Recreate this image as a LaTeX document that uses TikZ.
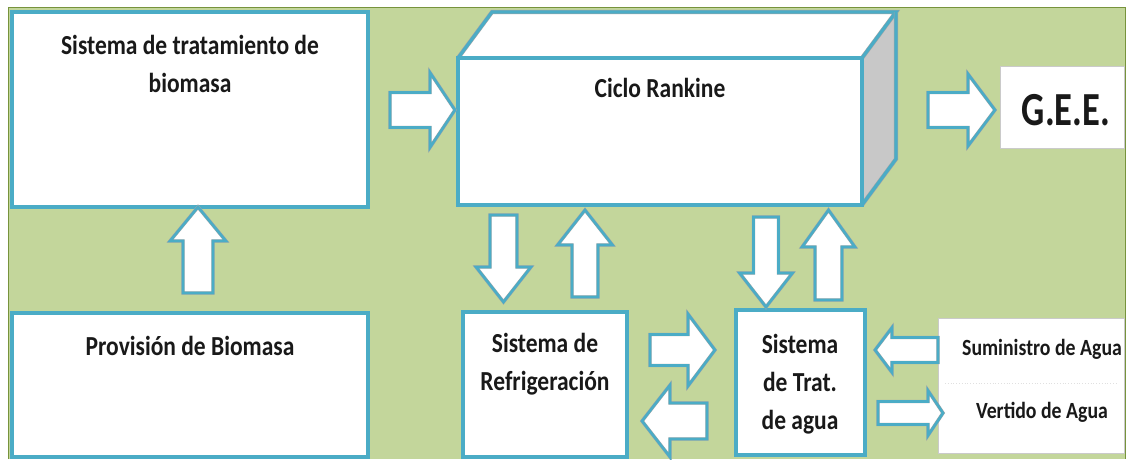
\documentclass[tikz,border=0pt]{standalone}
\usepackage{fontspec}
\setmainfont{Carlito}
\usepackage{graphicx}
\usetikzlibrary{calc}
\definecolor{bgG}{HTML}{C3D69B}
\definecolor{frameG}{HTML}{77933C}
\definecolor{blueC}{HTML}{4BACC6}
\definecolor{edgeG}{HTML}{A6A6A6}
\definecolor{sideG}{HTML}{C8C8C8}
\newcommand{\vs}[2][1.17]{\scalebox{1}[#1]{\begin{tabular}{@{}c@{}}#2\end{tabular}}}
\newcommand{\Harr}[6]{\draw[barrow] (#1,#4-#5) -- (#3,#4-#5) -- (#3,#4-#6) -- (#2,#4) -- (#3,#4+#6) -- (#3,#4+#5) -- (#1,#4+#5) -- cycle;}
\newcommand{\Varr}[6]{\draw[barrow] (#4-#5,#1) -- (#4-#5,#3) -- (#4-#6,#3) -- (#4,#2) -- (#4+#6,#3) -- (#4+#5,#3) -- (#4+#5,#1) -- cycle;}
\tikzset{
  box/.style={draw=edgeG, line width=0.5pt, double=blueC, double distance=3.2pt, fill=white, inner sep=0pt, outer sep=0pt},
  face/.style={draw=edgeG, line width=0.5pt, double=blueC, double distance=3.2pt, line join=miter},
  plainbox/.style={draw=edgeG!60, line width=0.5pt, fill=white, inner sep=0pt, outer sep=0pt},
  barrow/.style={draw=edgeG, line width=0.4pt, double=blueC, double distance=2.6pt, fill=white, line join=miter},
  lbl/.style={font=\bfseries\fontsize{23.5}{32.5}\selectfont, text=black!90, align=center, inner sep=0pt},
  slbl/.style={font=\bfseries\fontsize{19.8}{24}\selectfont, text=black!90, inner sep=0pt},
}
\begin{document}
\begin{tikzpicture}[x=1pt,y=-1pt]
\useasboundingbox (0,0) rectangle (1131,459);
% background panel
\fill[bgG] (8,7) rectangle (1126,459);
% boxes
\node[box, minimum width=356pt, minimum height=195pt] (trat1) at (190,109.5) {};
\node[box, minimum width=356pt, minimum height=144pt] (prov) at (190,385) {};
\node[box, minimum width=164pt, minimum height=145pt] (refr) at (545,384.5) {};
\node[box, minimum width=129pt, minimum height=145pt] (agua) at (800.5,382.5) {};
% Rankine cube
\node[box, minimum width=404pt, minimum height=147pt] (rank) at (660,131.5) {};
\fill[white] (rank.north west) -- ++(34,-46) -- ($(rank.north east)+(34,-46)$) -- (rank.north east) -- cycle;
\fill[sideG] (rank.north east) -- ++(34,-46) -- ++(0,147) -- (rank.south east) -- cycle;
\draw[face] (rank.north west) -- ++(34,-46) -- ($(rank.north east)+(34,-46)$) -- (rank.north east);
\draw[face] ($(rank.north east)+(34,-46)$) -- ++(0,147) -- (rank.south east);
\draw[face] (rank.north west) rectangle (rank.south east);
% right-hand white boxes
\node[plainbox, minimum width=124pt, minimum height=82pt] (gee) at (1062,107) {};
\node[plainbox, minimum width=186pt, minimum height=135pt] (ext) at (1031,385.5) {};
\draw[edgeG!35, dotted, line width=0.8pt] ($(ext.west)+(7,-2.5)$) -- ($(ext.east)+(-8,-2.5)$);
% frame lines
\draw[frameG, line width=1.8pt] (8.5,459) -- (8.5,7.5) -- (1125.5,7.5) -- (1125.5,459);
% texts
\node[lbl] (t1) at (190,66) {\vs{Sistema de tratamiento de\\biomasa}};
\node[lbl] (tr) at (660,90) {\vs{Ciclo Rankine}};
\node[lbl] (tp) at (190,348) {\vs{Provisión de Biomasa}};
\node[lbl] (tf) at (545,364) {\vs{Sistema de\\Refrigeración}};
\node[lbl] (ta) at (800,384) {\vs{Sistema\\de Trat.\\de agua}};
\node[font=\bfseries\fontsize{36.5}{40}\selectfont, text=black!90, inner sep=0pt] (tg) at (1066,110) {\scalebox{1}[1.3]{G.E.E.}};
\node[slbl] (ts) at (1042,349) {\scalebox{1}[1.17]{Suministro de Agua}};
\node[slbl] (tv) at (1042,412) {\scalebox{1}[1.17]{Vertido de Agua}};
% block arrows
\Harr{390}{455}{430}{110}{17.5}{37.5}
\Harr{928}{995}{968}{110}{17.5}{36}
\Varr{293}{207}{241}{198}{15}{28}
\Varr{215}{302}{267}{503.5}{13.5}{27.5}
\Varr{297}{210}{245}{585}{13}{27.5}
\Varr{217}{307}{273}{766}{12.5}{26.5}
\Varr{300}{210}{247}{828.5}{13.5}{26.5}
\Harr{650}{715}{688}{350}{15.5}{36}
\Harr{707}{642}{670}{421}{18}{36}
\Harr{938}{875}{892}{350}{12.5}{22.5}
\Harr{878}{943}{928}{413}{11.5}{22.5}
\end{tikzpicture}
\end{document}
